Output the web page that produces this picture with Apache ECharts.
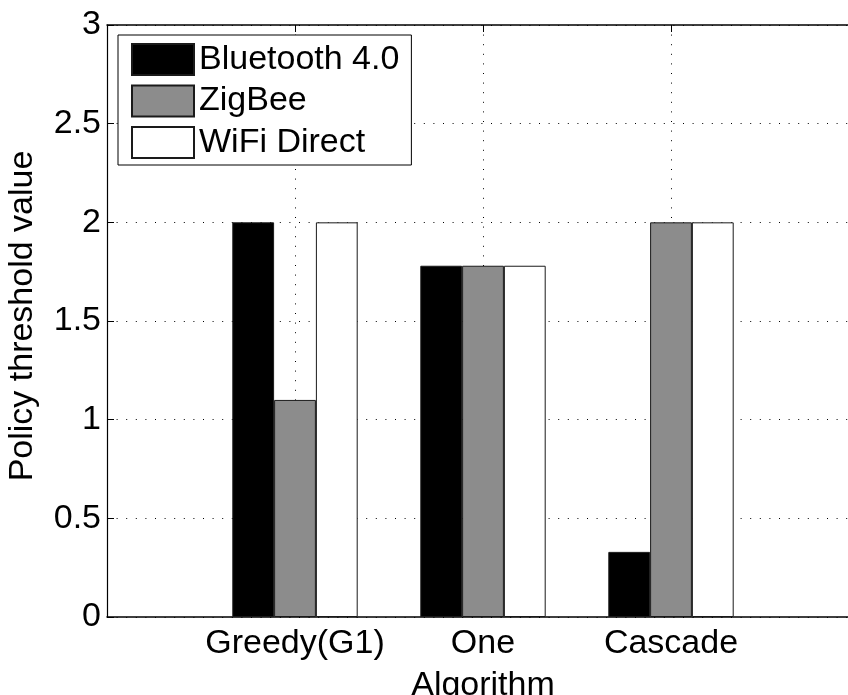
<!DOCTYPE html>
<html><head><meta charset="utf-8">
<script src="https://cdn.jsdelivr.net/npm/echarts@6/dist/echarts.min.js"></script>
<style>html,body{margin:0;padding:0;background:#fff}#c{width:848px;height:695px}</style>
</head><body><div id="c"></div>
<script>
const categories = ['Greedy(G1)', 'One', 'Cascade'];
const seriesNames = ['Bluetooth 4.0', 'ZigBee', 'WiFi Direct'];
const bluetooth = [2.0, 1.78, 0.33];
const zigbee = [1.1, 1.78, 2.0];
const wifiDirect = [2.0, 1.78, 2.0];
const yTickLabels = ['0', '0.5', '1', '1.5', '2', '2.5', '3'];
const xAxisTitle = 'Algorithm';
const yAxisTitle = 'Policy threshold value';

const FONT = 'Liberation Sans, Arial, Helvetica, sans-serif';
const colors = ['#000000', '#8c8c8c', '#ffffff'];
const allValues = [bluetooth, zigbee, wifiDirect];

const chart = echarts.init(document.getElementById('c'), null, {renderer: 'canvas'});
const dotted = {color: '#000', width: 1, type: [1, 8.6]};

const series = allValues.map((vals, s) => ({
  name: seriesNames[s],
  type: 'bar',
  xAxisIndex: 0,
  yAxisIndex: 0,
  barWidth: 41.8,
  barGap: '0%',
  itemStyle: {color: colors[s], borderColor: '#1a1a1a', borderWidth: 1},
  data: vals.map((v, i) => [i + 1, v])
}));

chart.setOption({
  animation: false,
  backgroundColor: '#fff',
  textStyle: {fontFamily: FONT},
  grid: {left: 107, right: -11, top: 25, bottom: 78, containLabel: false, outerBoundsMode: 'none'},
  legend: {
    orient: 'vertical', left: 118, top: 35,
    itemWidth: 62, itemHeight: 31, itemGap: 7.5,
    padding: [7.5, 12, 5.5, 13],
    borderColor: '#000', borderWidth: 1, backgroundColor: '#fff',
    icon: 'rect',
    textStyle: {fontSize: 34, color: '#000', fontFamily: FONT, lineHeight: 31},
    data: seriesNames
  },
  xAxis: [{
    type: 'value', position: 'bottom', min: 0, max: categories.length + 1, interval: 1,
    axisLine: {show: true, onZero: false, lineStyle: {color: '#000', width: 1.5}},
    axisTick: {show: true, inside: true, length: 7, lineStyle: {color: '#000'}},
    axisLabel: {
      fontSize: 34, color: '#000', fontFamily: FONT, margin: 10,
      formatter: v => categories[v - 1] || ''
    },
    splitLine: {show: true, lineStyle: dotted},
    name: xAxisTitle, nameLocation: 'middle', nameGap: 52,
    nameTextStyle: {fontSize: 34, color: '#000', fontFamily: FONT}
  }, {
    type: 'value', position: 'top', min: 0, max: categories.length + 1, interval: 1,
    axisLine: {show: true, onZero: false, lineStyle: {color: '#000', width: 1.5}},
    axisTick: {show: true, inside: true, length: 7, lineStyle: {color: '#000'}},
    axisLabel: {show: false},
    splitLine: {show: false}
  }],
  yAxis: [{
    type: 'value', min: 0, max: 3, interval: 0.5,
    axisLine: {show: true, onZero: false, lineStyle: {color: '#000', width: 1.2}},
    axisTick: {show: true, inside: true, length: 7, lineStyle: {color: '#000'}},
    axisLabel: {
      fontSize: 34, color: '#000', fontFamily: FONT, margin: 6,
      formatter: (v) => yTickLabels[Math.round(v * 2)]
    },
    splitLine: {show: true, lineStyle: dotted},
    name: yAxisTitle, nameLocation: 'middle', nameGap: 67,
    nameTextStyle: {fontSize: 34, color: '#000', fontFamily: FONT, padding: [0, 0, 0, 10]}
  }],
  series: series
});
</script></body></html>
